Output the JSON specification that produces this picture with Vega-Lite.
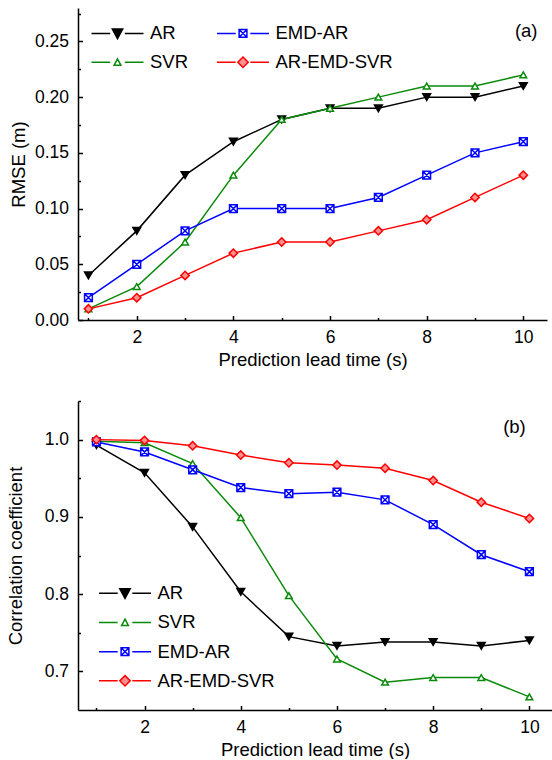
{
  "$schema": "https://vega.github.io/schema/vega-lite/v6.json",
  "padding": {"left": 6, "top": 8, "right": 0, "bottom": 0},
  "background": "white",
  "spacing": 31,
  "config": {
    "view": {"stroke": null},
    "font": "Liberation Sans",
    "axis": {
      "grid": false,
      "domainColor": "black",
      "domainWidth": 1.5,
      "tickColor": "black",
      "tickWidth": 1.5,
      "labelColor": "black",
      "titleColor": "black",
      "labelFont": "Liberation Sans",
      "titleFont": "Liberation Sans",
      "labelFontSize": 17.5,
      "titleFontSize": 18.5,
      "titleFontWeight": "normal"
    }
  },
  "datasets": {
    "rmse": [
      {"time": 1, "model": "AR", "value": 0.04}, {"time": 2, "model": "AR", "value": 0.08}, {"time": 3, "model": "AR", "value": 0.13}, {"time": 4, "model": "AR", "value": 0.16}, {"time": 5, "model": "AR", "value": 0.18}, {"time": 6, "model": "AR", "value": 0.19}, {"time": 7, "model": "AR", "value": 0.19}, {"time": 8, "model": "AR", "value": 0.20}, {"time": 9, "model": "AR", "value": 0.20}, {"time": 10, "model": "AR", "value": 0.21},
      {"time": 1, "model": "SVR", "value": 0.01}, {"time": 2, "model": "SVR", "value": 0.03}, {"time": 3, "model": "SVR", "value": 0.07}, {"time": 4, "model": "SVR", "value": 0.13}, {"time": 5, "model": "SVR", "value": 0.18}, {"time": 6, "model": "SVR", "value": 0.19}, {"time": 7, "model": "SVR", "value": 0.20}, {"time": 8, "model": "SVR", "value": 0.21}, {"time": 9, "model": "SVR", "value": 0.21}, {"time": 10, "model": "SVR", "value": 0.22},
      {"time": 1, "model": "EMD-AR", "value": 0.02}, {"time": 2, "model": "EMD-AR", "value": 0.05}, {"time": 3, "model": "EMD-AR", "value": 0.08}, {"time": 4, "model": "EMD-AR", "value": 0.10}, {"time": 5, "model": "EMD-AR", "value": 0.10}, {"time": 6, "model": "EMD-AR", "value": 0.10}, {"time": 7, "model": "EMD-AR", "value": 0.11}, {"time": 8, "model": "EMD-AR", "value": 0.13}, {"time": 9, "model": "EMD-AR", "value": 0.15}, {"time": 10, "model": "EMD-AR", "value": 0.16},
      {"time": 1, "model": "AR-EMD-SVR", "value": 0.01}, {"time": 2, "model": "AR-EMD-SVR", "value": 0.02}, {"time": 3, "model": "AR-EMD-SVR", "value": 0.04}, {"time": 4, "model": "AR-EMD-SVR", "value": 0.06}, {"time": 5, "model": "AR-EMD-SVR", "value": 0.07}, {"time": 6, "model": "AR-EMD-SVR", "value": 0.07}, {"time": 7, "model": "AR-EMD-SVR", "value": 0.08}, {"time": 8, "model": "AR-EMD-SVR", "value": 0.09}, {"time": 9, "model": "AR-EMD-SVR", "value": 0.11}, {"time": 10, "model": "AR-EMD-SVR", "value": 0.13}
    ],
    "corr": [
      {"time": 1, "model": "AR", "value": 0.993}, {"time": 2, "model": "AR", "value": 0.957}, {"time": 3, "model": "AR", "value": 0.887}, {"time": 4, "model": "AR", "value": 0.803}, {"time": 5, "model": "AR", "value": 0.745}, {"time": 6, "model": "AR", "value": 0.733}, {"time": 7, "model": "AR", "value": 0.738}, {"time": 8, "model": "AR", "value": 0.738}, {"time": 9, "model": "AR", "value": 0.733}, {"time": 10, "model": "AR", "value": 0.740},
      {"time": 1, "model": "SVR", "value": 0.998}, {"time": 2, "model": "SVR", "value": 0.996}, {"time": 3, "model": "SVR", "value": 0.969}, {"time": 4, "model": "SVR", "value": 0.899}, {"time": 5, "model": "SVR", "value": 0.798}, {"time": 6, "model": "SVR", "value": 0.716}, {"time": 7, "model": "SVR", "value": 0.686}, {"time": 8, "model": "SVR", "value": 0.692}, {"time": 9, "model": "SVR", "value": 0.692}, {"time": 10, "model": "SVR", "value": 0.667},
      {"time": 1, "model": "EMD-AR", "value": 0.997}, {"time": 2, "model": "EMD-AR", "value": 0.984}, {"time": 3, "model": "EMD-AR", "value": 0.961}, {"time": 4, "model": "EMD-AR", "value": 0.938}, {"time": 5, "model": "EMD-AR", "value": 0.930}, {"time": 6, "model": "EMD-AR", "value": 0.932}, {"time": 7, "model": "EMD-AR", "value": 0.922}, {"time": 8, "model": "EMD-AR", "value": 0.890}, {"time": 9, "model": "EMD-AR", "value": 0.851}, {"time": 10, "model": "EMD-AR", "value": 0.829},
      {"time": 1, "model": "AR-EMD-SVR", "value": 1.0}, {"time": 2, "model": "AR-EMD-SVR", "value": 0.999}, {"time": 3, "model": "AR-EMD-SVR", "value": 0.992}, {"time": 4, "model": "AR-EMD-SVR", "value": 0.980}, {"time": 5, "model": "AR-EMD-SVR", "value": 0.970}, {"time": 6, "model": "AR-EMD-SVR", "value": 0.967}, {"time": 7, "model": "AR-EMD-SVR", "value": 0.963}, {"time": 8, "model": "AR-EMD-SVR", "value": 0.947}, {"time": 9, "model": "AR-EMD-SVR", "value": 0.919}, {"time": 10, "model": "AR-EMD-SVR", "value": 0.898}
    ],
    "tagA": [{"time": 10.06, "value": 0.259, "label": "(a)"}],
    "tagB": [{"time": 9.69, "value": 1.016, "label": "(b)"}]
  },
  "resolve": {"scale": {"stroke": "independent"}},
  "vconcat": [
    {
      "width": 469,
      "height": 312,
      "resolve": {"axis": {"x": "independent", "y": "independent"}},
      "layer": [
        {
          "data": {"name": "rmse"},
          "mark": {"type": "point", "opacity": 0},
          "encoding": {
            "x": {"field": "time", "type": "quantitative", "scale": {"domain": [0.784, 10.49], "nice": false, "zero": false},
                  "axis": {"orient": "bottom", "values": [1, 3, 5, 7, 9], "labels": false, "domain": false, "tickSize": -2.5, "title": null}},
            "y": {"field": "value", "type": "quantitative", "scale": {"domain": [0, 0.28], "nice": false, "zero": false},
                  "axis": {"orient": "left", "values": [0.025, 0.075, 0.125, 0.175, 0.225, 0.275], "labels": false, "domain": false, "tickSize": -2.5, "title": null}}
          }
        },
        {
          "data": {"name": "rmse"},
          "mark": {"type": "line", "strokeWidth": 1.5},
          "encoding": {
            "x": {"field": "time", "type": "quantitative",
                  "axis": {"orient": "bottom", "values": [2, 4, 6, 8, 10], "tickSize": -4.5, "labelPadding": 13, "title": "Prediction lead time (s)", "titlePadding": 4}},
            "y": {"field": "value", "type": "quantitative",
                  "axis": {"orient": "left", "values": [0, 0.05, 0.1, 0.15, 0.2, 0.25], "format": ".2f", "tickSize": -4.5, "labelPadding": 14, "title": "RMSE (m)", "titlePadding": 6}},
            "stroke": {"field": "model", "type": "nominal",
                       "scale": {"domain": ["AR", "SVR", "EMD-AR", "AR-EMD-SVR"], "range": ["#000000", "#0a8a0a", "#0000ff", "#ff0000"]},
                       "legend": {
                         "title": null, "orient": "none", "legendX": 13.5, "legendY": 16, "columns": 2, "padding": 0,
                         "symbolSize": 100, "symbolStrokeWidth": 1.5, "labelFontSize": 18.5, "labelFont": "Liberation Sans", "labelColor": "black",
                         "labelOffset": 40, "columnPadding": 25.5, "rowPadding": 10,
                         "labelExpr": "datum.label === 'EMD-AR' || datum.label === 'AR-EMD-SVR' ? '\u00a0' + datum.label : datum.label",
                         "encode": {"symbols": {"update": {
                           "shape": {"signal": "datum.value === 'AR' ? 'M-1.85,0H1.89M4.81,0H8.55M2.31,-0.88L4.39,-0.88L3.35,1.04Z' : datum.value === 'SVR' ? 'M-1.85,0H1.89M4.81,0H8.55M2.67,0.62L4.03,0.62L3.35,-0.68Z' : datum.value === 'EMD-AR' ? 'M-1.85,0H1.89M4.81,0H8.55M2.57,-0.78H4.13V0.78H2.57ZM2.57,-0.78L4.13,0.78M4.13,-0.78L2.57,0.78' : 'M-1.85,0H1.89M4.81,0H8.55M3.35,-1.04L4.39,0L3.35,1.04L2.31,0Z'"},
                           "fill": {"signal": "datum.value === 'AR' ? '#000000' : datum.value === 'SVR' ? '#ffffff' : datum.value === 'EMD-AR' ? '#ffffff' : '#ff9090'"},
                           "opacity": {"value": 1}
                         }}}
                       }}
          }
        },
        {
          "data": {"name": "rmse"},
          "transform": [{"filter": "datum.model === 'AR'"}],
          "mark": {"type": "point", "shape": "triangle-down", "fill": "#000000", "stroke": "#000000", "strokeWidth": 1.5, "opacity": 1, "size": 60},
          "encoding": {"x": {"field": "time", "type": "quantitative", "axis": null}, "y": {"field": "value", "type": "quantitative", "axis": null}}
        },
        {
          "data": {"name": "rmse"},
          "transform": [{"filter": "datum.model === 'SVR'"}],
          "mark": {"type": "point", "shape": "triangle-up", "fill": "#ffffff", "stroke": "#0a8a0a", "strokeWidth": 1.5, "opacity": 1, "size": 45},
          "encoding": {"x": {"field": "time", "type": "quantitative", "axis": null}, "y": {"field": "value", "type": "quantitative", "axis": null}}
        },
        {
          "data": {"name": "rmse"},
          "transform": [{"filter": "datum.model === 'EMD-AR'"}],
          "mark": {"type": "point", "shape": "M-1,-1H1V1H-1ZM-1,-1L1,1M1,-1L-1,1", "fill": "#ffffff", "stroke": "#0000ff", "strokeWidth": 1.5, "opacity": 1, "size": 60},
          "encoding": {"x": {"field": "time", "type": "quantitative", "axis": null}, "y": {"field": "value", "type": "quantitative", "axis": null}}
        },
        {
          "data": {"name": "rmse"},
          "transform": [{"filter": "datum.model === 'AR-EMD-SVR'"}],
          "mark": {"type": "point", "shape": "diamond", "fill": "#ff9090", "stroke": "#ff0000", "strokeWidth": 1.5, "opacity": 1, "size": 70},
          "encoding": {"x": {"field": "time", "type": "quantitative", "axis": null}, "y": {"field": "value", "type": "quantitative", "axis": null}}
        },
        {
          "data": {"name": "tagA"},
          "mark": {"type": "text", "fontSize": 18.5, "font": "Liberation Sans", "color": "black", "align": "center", "baseline": "middle"},
          "encoding": {
            "x": {"field": "time", "type": "quantitative", "axis": null},
            "y": {"field": "value", "type": "quantitative", "axis": null},
            "text": {"field": "label"}
          }
        }
      ]
    },
    {
      "width": 474,
      "height": 309,
      "resolve": {"axis": {"x": "independent", "y": "independent"}},
      "layer": [
        {
          "data": {"name": "corr"},
          "mark": {"type": "point", "opacity": 0},
          "encoding": {
            "x": {"field": "time", "type": "quantitative", "scale": {"domain": [0.617, 10.47], "nice": false, "zero": false},
                  "axis": {"orient": "bottom", "values": [1, 3, 5, 7, 9], "labels": false, "domain": false, "tickSize": -2.5, "title": null}},
            "y": {"field": "value", "type": "quantitative", "scale": {"domain": [0.65, 1.05], "nice": false, "zero": false},
                  "axis": {"orient": "left", "values": [0.75, 0.85, 0.95, 1.05], "labels": false, "domain": false, "tickSize": -2.5, "title": null}}
          }
        },
        {
          "data": {"name": "corr"},
          "mark": {"type": "line", "strokeWidth": 1.5},
          "encoding": {
            "x": {"field": "time", "type": "quantitative",
                  "axis": {"orient": "bottom", "values": [2, 4, 6, 8, 10], "tickSize": -4.5, "labelPadding": 13, "title": "Prediction lead time (s)", "titlePadding": 4}},
            "y": {"field": "value", "type": "quantitative",
                  "axis": {"orient": "left", "values": [0.7, 0.8, 0.9, 1.0], "format": ".1f", "tickSize": -4.5, "labelPadding": 14, "title": "Correlation coefficient", "titlePadding": 19}},
            "stroke": {"field": "model", "type": "nominal",
                       "scale": {"domain": ["AR", "SVR", "EMD-AR", "AR-EMD-SVR"], "range": ["#000000", "#0a8a0a", "#0000ff", "#ff0000"]},
                       "legend": {
                         "title": null, "orient": "none", "legendX": 21, "legendY": 183, "columns": 1, "padding": 0,
                         "symbolSize": 100, "symbolStrokeWidth": 1.5, "labelFontSize": 18.5, "labelFont": "Liberation Sans", "labelColor": "black",
                         "labelOffset": 40, "rowPadding": 10.2,
                         "encode": {"symbols": {"update": {
                           "shape": {"signal": "datum.value === 'AR' ? 'M-1.85,0H1.89M4.81,0H8.55M2.31,-0.88L4.39,-0.88L3.35,1.04Z' : datum.value === 'SVR' ? 'M-1.85,0H1.89M4.81,0H8.55M2.67,0.62L4.03,0.62L3.35,-0.68Z' : datum.value === 'EMD-AR' ? 'M-1.85,0H1.89M4.81,0H8.55M2.57,-0.78H4.13V0.78H2.57ZM2.57,-0.78L4.13,0.78M4.13,-0.78L2.57,0.78' : 'M-1.85,0H1.89M4.81,0H8.55M3.35,-1.04L4.39,0L3.35,1.04L2.31,0Z'"},
                           "fill": {"signal": "datum.value === 'AR' ? '#000000' : datum.value === 'SVR' ? '#ffffff' : datum.value === 'EMD-AR' ? '#ffffff' : '#ff9090'"},
                           "opacity": {"value": 1}
                         }}}
                       }}
          }
        },
        {
          "data": {"name": "corr"},
          "transform": [{"filter": "datum.model === 'AR'"}],
          "mark": {"type": "point", "shape": "triangle-down", "fill": "#000000", "stroke": "#000000", "strokeWidth": 1.5, "opacity": 1, "size": 60},
          "encoding": {"x": {"field": "time", "type": "quantitative", "axis": null}, "y": {"field": "value", "type": "quantitative", "axis": null}}
        },
        {
          "data": {"name": "corr"},
          "transform": [{"filter": "datum.model === 'SVR'"}],
          "mark": {"type": "point", "shape": "triangle-up", "fill": "#ffffff", "stroke": "#0a8a0a", "strokeWidth": 1.5, "opacity": 1, "size": 45},
          "encoding": {"x": {"field": "time", "type": "quantitative", "axis": null}, "y": {"field": "value", "type": "quantitative", "axis": null}}
        },
        {
          "data": {"name": "corr"},
          "transform": [{"filter": "datum.model === 'EMD-AR'"}],
          "mark": {"type": "point", "shape": "M-1,-1H1V1H-1ZM-1,-1L1,1M1,-1L-1,1", "fill": "#ffffff", "stroke": "#0000ff", "strokeWidth": 1.5, "opacity": 1, "size": 60},
          "encoding": {"x": {"field": "time", "type": "quantitative", "axis": null}, "y": {"field": "value", "type": "quantitative", "axis": null}}
        },
        {
          "data": {"name": "corr"},
          "transform": [{"filter": "datum.model === 'AR-EMD-SVR'"}],
          "mark": {"type": "point", "shape": "diamond", "fill": "#ff9090", "stroke": "#ff0000", "strokeWidth": 1.5, "opacity": 1, "size": 70},
          "encoding": {"x": {"field": "time", "type": "quantitative", "axis": null}, "y": {"field": "value", "type": "quantitative", "axis": null}}
        },
        {
          "data": {"name": "tagB"},
          "mark": {"type": "text", "fontSize": 18.5, "font": "Liberation Sans", "color": "black", "align": "center", "baseline": "middle"},
          "encoding": {
            "x": {"field": "time", "type": "quantitative", "axis": null},
            "y": {"field": "value", "type": "quantitative", "axis": null},
            "text": {"field": "label"}
          }
        }
      ]
    }
  ]
}
